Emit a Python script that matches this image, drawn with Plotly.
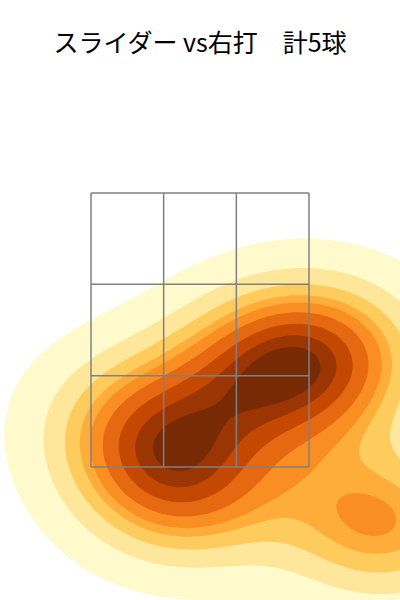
import numpy as np
import plotly.graph_objects as go

# ---- data -------------------------------------------------------------
title_text = "スライダー vs右打　計5球"

# pitch locations: horizontal (ft, catcher view) and height (ft)
pitch_x = [-0.137, -0.365, 0.518, 0.937, 1.363]
pitch_z = [1.332, 1.792, 2.142, 2.347, 1.099]

# strike zone grid (3x3)
zone_x = [-0.83, -0.2767, 0.2767, 0.83]
zone_z = [1.5, 2.1667, 2.8333, 3.5]

x_range = [-1.523, 1.523]
z_range = [0.529, 4.325]

# YlOrBr anchors (matplotlib / ColorBrewer)
ylorbr = [(255, 255, 229), (255, 247, 188), (254, 227, 145), (254, 196, 79),
          (254, 153, 41), (236, 112, 20), (204, 76, 2), (153, 52, 4), (102, 37, 6)]

n_levels = 10
thresh = 0.05

# ---- KDE (Gaussian, Scott's rule, full covariance) --------------------
pts = np.vstack([pitch_x, pitch_z])
n = pts.shape[1]
factor = n ** (-1.0 / 6.0)
cov = np.cov(pts) * factor ** 2
inv = np.linalg.inv(cov)
norm = 1.0 / (2 * np.pi * np.sqrt(np.linalg.det(cov)))
bw = np.sqrt(np.diag(cov))
gx = np.linspace(min(pitch_x) - 3 * bw[0], max(pitch_x) + 3 * bw[0], 200)
gz = np.linspace(min(pitch_z) - 3 * bw[1], max(pitch_z) + 3 * bw[1], 200)
XX, ZZ = np.meshgrid(gx, gz)
dens = np.zeros_like(XX)
for px, pz in zip(pitch_x, pitch_z):
    dx = XX - px
    dz = ZZ - pz
    m = inv[0, 0] * dx * dx + 2 * inv[0, 1] * dx * dz + inv[1, 1] * dz * dz
    dens += np.exp(-0.5 * m)
dens *= norm / n

# iso-proportion levels
iso = np.linspace(thresh, 1, n_levels)
vals = np.sort(dens.ravel())[::-1]
cum = np.cumsum(vals) / vals.sum()
idx = np.searchsorted(cum, 1 - iso)
levels = np.take(vals, idx, mode="clip")

# map density to band index space
zt = np.interp(dens, levels, np.arange(n_levels))
zt = np.where(dens < levels[0], dens / levels[0] - 1.0, zt)


def cmap(v):
    v = min(max(v, 0.0), 1.0) * (len(ylorbr) - 1)
    i = min(int(np.floor(v)), len(ylorbr) - 2)
    f = v - i
    c0, c1 = ylorbr[i], ylorbr[i + 1]
    return "rgb(%d,%d,%d)" % tuple(round(c0[k] + (c1[k] - c0[k]) * f) for k in range(3))


layers = 0.5 * (levels[:-1] + levels[1:])
band_cols = [cmap((L - levels[0]) / (levels[-1] - levels[0])) for L in layers]

nb = n_levels - 1  # number of contour lines = 9 -> 10 regions
colorscale = []
region_cols = ["rgba(255,255,255,0)"] + band_cols
for j, c in enumerate(region_cols):
    lo = max(0.0, (j - 0.5) / nb)
    hi = min(1.0, (j + 0.5) / nb)
    colorscale.append([lo, c])
    colorscale.append([hi, c])

fig = go.Figure()
fig.add_trace(go.Contour(
    x=gx, y=gz, z=zt,
    colorscale=colorscale,
    autocontour=False,
    contours=dict(start=0, end=nb - 1, size=1, coloring="fill"),
    line=dict(width=0),
    showscale=False,
    hoverinfo="skip",
))

shapes = []
for xv in zone_x:
    shapes.append(dict(type="line", xref="x", yref="y", x0=xv, x1=xv,
                       y0=zone_z[0], y1=zone_z[-1],
                       line=dict(color="rgb(128,128,128)", width=1.5), layer="above"))
for zv in zone_z:
    shapes.append(dict(type="line", xref="x", yref="y", x0=zone_x[0], x1=zone_x[-1],
                       y0=zv, y1=zv,
                       line=dict(color="rgb(128,128,128)", width=1.5), layer="above"))

fig.update_layout(
    width=400, height=600,
    margin=dict(l=0, r=0, t=80, b=0),
    paper_bgcolor="white", plot_bgcolor="white",
    title=dict(text=title_text, x=0.5, xanchor="center", y=1 - 43 / 600,
               yanchor="middle", yref="container",
               font=dict(family="Noto Sans CJK JP", size=25, color="black")),
    xaxis=dict(range=x_range, visible=False, fixedrange=True),
    yaxis=dict(range=z_range, visible=False, fixedrange=True),
    shapes=shapes,
    showlegend=False,
)

fig.write_html("out.html", config={"displayModeBar": False},
               post_script="document.body.style.margin='0';document.body.style.overflow='hidden';")
